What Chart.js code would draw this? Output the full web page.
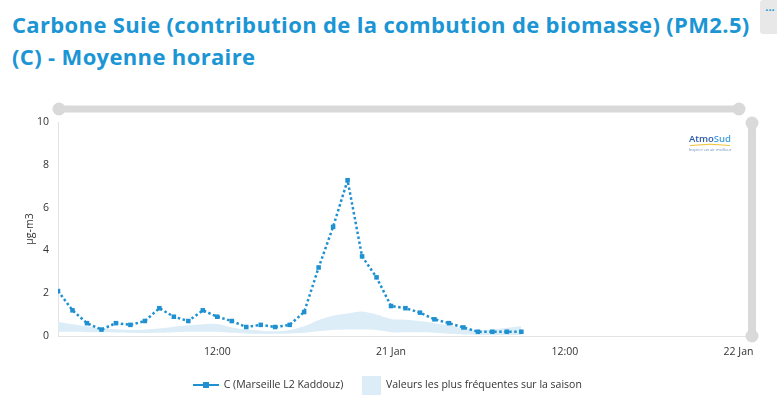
<!DOCTYPE html>
<html>
<head>
<meta charset="utf-8">
<script src="https://cdn.jsdelivr.net/npm/chart.js@4"></script>
<style>
  html, body { margin:0; padding:0; background:#fff; width:777px; height:399px; overflow:hidden; }
  #title { position:absolute; left:12px; top:8px; font-family:"Open Sans", sans-serif; font-weight:700; font-size:22px; line-height:32px; color:#1b95d3; white-space:nowrap; letter-spacing:0.35px; }
  #menu { position:absolute; left:760px; top:0; width:20px; height:34px; background:#e8e8e8; border-radius:3px; color:#1b95d3; font-family:"Open Sans", sans-serif; font-size:11px; font-weight:700; text-align:center; line-height:14px; }
  canvas { position:absolute; left:0; top:0; }
  #legend { position:absolute; top:374px; left:0; width:777px; height:20px; font-family:"Open Sans", sans-serif; font-size:10.5px; color:#333; }
  .lg { position:absolute; top:0; height:20px; line-height:20px; white-space:nowrap; }
</style>
</head>
<body>
<div id="title">Carbone Suie (contribution de la combution de biomasse) (PM2.5)<br>(C) - Moyenne horaire</div>
<div id="menu">...</div>
<canvas id="c" width="777" height="399"></canvas>
<div id="legend">
  <div class="lg" style="left:193px;"><span id="sym1" style="display:inline-block;vertical-align:middle;width:26px;height:10px;position:relative;"><span style="position:absolute;left:0;top:4px;width:26px;height:2px;background:#1f90d0;"></span><span style="position:absolute;left:10px;top:2px;width:6px;height:6px;background:#1f90d0;"></span></span> <span style="margin-left:2px;">C (Marseille L2 Kaddouz)</span></div>
  <div class="lg" style="left:362px;"><span style="display:inline-block;vertical-align:middle;width:19px;height:19px;background:#dcedf7;"></span><span style="margin-left:5px;">Valeurs les plus fréquentes sur la saison</span></div>
</div>
<script>
// Hours since 20 Jan 00:00
const hours = [1,2,3,4,5,6,7,8,9,10,11,12,13,14,15,16,17,18,19,20,21,22,23,24,25,26,27,28,29,30,31,32,33];
const values = [2.10,1.20,0.60,0.30,0.60,0.52,0.70,1.30,0.90,0.70,1.20,0.90,0.70,0.42,0.52,0.42,0.52,1.12,3.20,5.10,7.28,3.72,2.74,1.40,1.30,1.09,0.78,0.60,0.40,0.20,0.20,0.20,0.20];
const bandLow = [0.20,0.20,0.18,0.17,0.16,0.15,0.14,0.15,0.18,0.20,0.20,0.20,0.15,0.12,0.10,0.10,0.12,0.15,0.22,0.28,0.30,0.30,0.28,0.18,0.17,0.17,0.15,0.10,0.07,0.05,0.05,0.05,0.05];
const bandHigh = [0.67,0.55,0.45,0.36,0.31,0.28,0.30,0.35,0.43,0.50,0.55,0.56,0.40,0.30,0.25,0.22,0.28,0.45,0.75,0.95,1.05,1.14,1.00,0.79,0.76,0.70,0.60,0.50,0.35,0.28,0.30,0.38,0.45];
const tickHours = [12,24,36,48];
const tickLabels = ['12:00','21 Jan','12:00','22 Jan'];
const yTicks = [0,2,4,6,8,10];

const lineColor = '#1f90d0';
const bandColor = '#dcedf7';
const fontFam = '"Open Sans", sans-serif';

const pts = arr => hours.map((h,i)=>({x:h, y:arr[i]}));

const decor = {
  id:'decor',
  afterDraw(chart){
    const ctx = chart.ctx, a = chart.chartArea;
    ctx.save();
    ctx.fillStyle = '#d9d9d9';
    // horizontal scrollbar
    const hy = a.top - 13;
    ctx.fillRect(a.left, hy-3.5, 739 - a.left, 7);
    ctx.beginPath(); ctx.arc(a.left+1, hy, 6.5, 0, Math.PI*2); ctx.fill();
    ctx.beginPath(); ctx.arc(739, hy, 6.5, 0, Math.PI*2); ctx.fill();
    // vertical scrollbar
    const vx = a.right - 1;
    ctx.fillRect(vx-4, a.top, 8, a.bottom - a.top);
    ctx.beginPath(); ctx.arc(vx, a.top+1, 6.5, 0, Math.PI*2); ctx.fill();
    ctx.beginPath(); ctx.arc(vx, a.bottom, 6.5, 0, Math.PI*2); ctx.fill();
    // logo
    ctx.textBaseline = 'alphabetic';
    ctx.font = '600 9.5px ' + fontFam;
    const w1 = ctx.measureText('Atmo').width, w2 = ctx.measureText('Sud').width;
    const lx = 710 - (w1+w2)/2, ly = 142;
    ctx.fillStyle = '#2b5ca6'; ctx.fillText('Atmo', lx, ly);
    ctx.fillStyle = '#3ea0dc'; ctx.fillText('Sud', lx + w1, ly);
    ctx.strokeStyle = '#f2c230'; ctx.lineWidth = 1;
    ctx.beginPath(); ctx.moveTo(690, 145.5); ctx.quadraticCurveTo(710, 143, 730, 145.5); ctx.stroke();
    ctx.font = '4px ' + fontFam; ctx.fillStyle = '#6a8cc0'; ctx.textAlign = 'center';
    ctx.fillText('Inspirer un air meilleur', 710, 151);
    ctx.restore();
  }
};

new Chart(document.getElementById('c'), {
  type:'line',
  data:{
    datasets:[
      { label:'C (Marseille L2 Kaddouz)', data:pts(values), borderColor:lineColor, backgroundColor:lineColor,
        borderWidth:2.5, borderDash:[2.5,2.5], pointStyle:'rect', pointRadius:3.2, pointBorderWidth:0,
        fill:false, order:0, tension:0 },
      { label:'low', data:pts(bandLow), borderWidth:0, pointRadius:0, fill:false, order:2, tension:0.3 },
      { label:'Valeurs les plus fréquentes sur la saison', data:pts(bandHigh), borderWidth:0, pointRadius:0,
        backgroundColor:bandColor, fill:'-1', order:1, tension:0.3 }
    ]
  },
  options:{
    responsive:false, animation:false,
    layout:{padding:{left:0, top:122, right:24, bottom:0}},
    plugins:{legend:{display:false}, tooltip:{enabled:false}},
    scales:{
      x:{ type:'linear', min:1, max:49,
        afterBuildTicks: s => { s.ticks = tickHours.map(v=>({value:v})); },
        afterFit: s => { s.height = 63; },
        grid:{display:false, drawTicks:false},
        border:{display:true, color:'#e3e3e3', width:1},
        ticks:{ padding:10, maxRotation:0, autoSkip:false, color:'#333', font:{family:fontFam, size:10.5},
          callback:(v)=> tickLabels[tickHours.indexOf(v)] }
      },
      y:{ min:0, max:10,
        afterBuildTicks: s => { s.ticks = yTicks.map(v=>({value:v})); },
        afterFit: s => { s.width = 58; },
        grid:{display:false, drawTicks:false},
        border:{display:true, color:'#e3e3e3', width:1},
        ticks:{ padding:9, color:'#333', font:{family:fontFam, size:10.5} },
        title:{ display:true, text:'µg-m3', color:'#333', font:{family:fontFam, size:10.5}, padding:{top:24, bottom:0} }
      }
    }
  },
  plugins:[decor]
});
</script>
</body>
</html>
